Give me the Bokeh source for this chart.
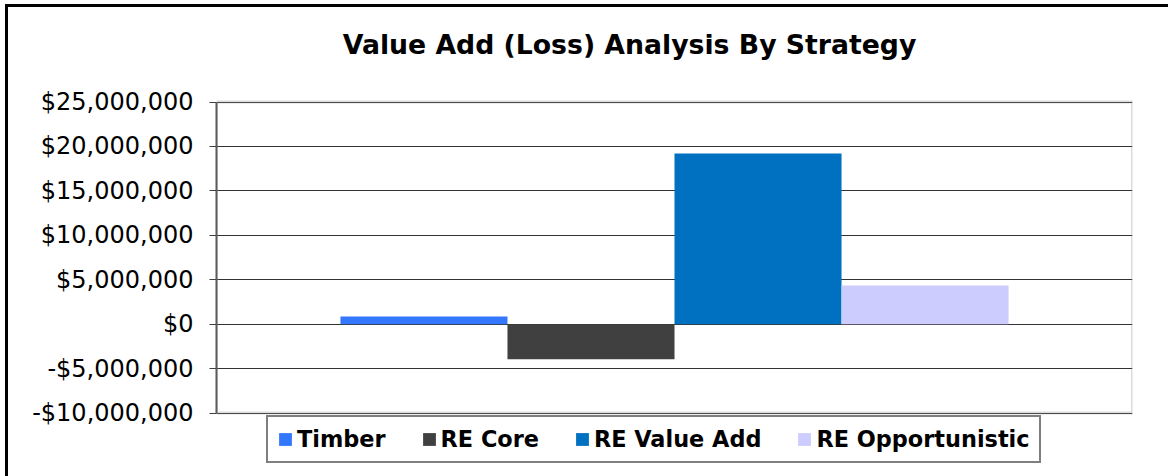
from bokeh.plotting import figure
from bokeh.models import (ColumnDataSource, FactorRange, Range1d, BoxAnnotation,
                          Label, NumeralTickFormatter, SingleIntervalTicker)
from bokeh.embed import file_html
from bokeh.resources import INLINE

# ---- data ----
title_text = "Value Add (Loss) Analysis By Strategy"
series = ["Timber", "RE Core", "RE Value Add", "RE Opportunistic"]
values = [870000, -3950000, 19200000, 4350000]
colors = ["#3377FF", "#404040", "#0070C0", "#CCCCFF"]
y_min, y_max, y_step = -10000000, 25000000, 5000000

src = ColumnDataSource(dict(series=series, value=values, color=colors))

FONT = "DejaVu Sans"

# layout (pixels): the plot area is 311px tall; the frame extends above it
# (title room) and below it (legend room).
AREA_PX, TOP_PAD_PX, BOTTOM_PAD_PX = 311, 94.5, 59.5
per_px = (y_max - y_min) / AREA_PX
y_start = y_min - BOTTOM_PAD_PX * per_px
y_end = y_max + TOP_PAD_PX * per_px
PAD = 0.371  # x range padding (fraction)
BAR_PX = 916 / (len(series) * (1 + PAD))

p = figure(
    title=None,
    frame_width=916, frame_height=int(AREA_PX + TOP_PAD_PX + BOTTOM_PAD_PX),
    x_range=FactorRange(factors=series, range_padding=PAD),
    y_range=Range1d(y_start, y_end),
    output_backend="svg", toolbar_location=None,
    min_border_left=208, min_border_right=36,
    min_border_top=0, min_border_bottom=4,
    background_fill_color="white", border_fill_color="white",
)
p.styles = {"border-left": "3px solid black", "border-top": "3px solid black",
            "margin-left": "5px", "margin-top": "4px"}
p.outline_line_color = None

# plot-area border
p.add_layout(BoxAnnotation(bottom=y_min, top=y_max, fill_alpha=0,
                           line_color="#888888", line_width=3))

p.vbar(x="series", top="value", bottom=0, width=1.0, source=src,
       fill_color="color", line_color=None, legend_field="series")

# title (centred 45px left of the plot-area centre)
p.add_layout(Label(x=len(series) / 2 - 45 / BAR_PX, y=y_max + 58 * per_px,
                   text=title_text, text_align="center", text_baseline="alphabetic",
                   text_font=FONT, text_font_size="26.7px", text_font_style="bold",
                   text_color="black"))

# axes
p.xaxis.visible = False
p.xgrid.visible = False
yax = p.yaxis[0]
yax.bounds = (y_min, y_max)
yax.ticker = SingleIntervalTicker(interval=y_step)
yax.formatter = NumeralTickFormatter(format="$0,0")
yax.major_label_text_font = FONT
yax.major_label_text_font_size = "24px"
yax.major_label_text_color = "black"
yax.axis_line_color = "#555555"
yax.axis_line_width = 2
yax.major_tick_line_color = "#404040"
yax.major_tick_out = 7
yax.major_tick_in = 0
yax.minor_tick_line_color = None
yax.major_label_standoff = 16

p.ygrid.ticker = SingleIntervalTicker(interval=y_step)
p.ygrid.bounds = (y_min, y_max)
p.ygrid.grid_line_color = "#333333"
p.ygrid.grid_line_width = 1.2

# legend
leg = p.legend[0]
leg.orientation = "horizontal"
leg.location = (50, 9)
leg.margin = 0
leg.padding = 9
leg.spacing = 35
leg.glyph_width = 16
leg.glyph_height = 16
leg.label_standoff = 4
leg.label_text_font = FONT
leg.label_text_font_size = "22.4px"
leg.label_text_font_style = "bold"
leg.label_text_color = "black"
leg.border_line_color = "black"
leg.border_line_width = 2
leg.background_fill_color = "white"
leg.background_fill_alpha = 1.0

open("out.html", "w").write(file_html(p, INLINE))
